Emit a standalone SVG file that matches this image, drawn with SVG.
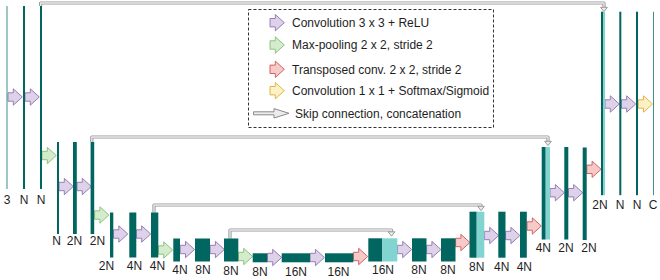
<svg xmlns="http://www.w3.org/2000/svg" xmlns:xlink="http://www.w3.org/1999/xlink" width="660" height="280" viewBox="0 0 660 280">
<style>
text{font-family:"Liberation Sans",Arial,sans-serif;font-size:12px;fill:#1e1e1e}
.lab{text-anchor:middle}
.bar{fill:#00665f}
.thin{fill:#3f8f8a}
.cat{fill:#82d4d0}
.conv{fill:#ddd2e8;stroke:#9a7cb8;stroke-width:1}
.pool{fill:#d4ebcd;stroke:#8cc47c;stroke-width:1}
.up{fill:#f7c9c9;stroke:#d26464;stroke-width:1}
.out{fill:#fdf0c4;stroke:#e2b64a;stroke-width:1}
.skipo{fill:none;stroke:#9a9a9a;stroke-width:3.2;stroke-linejoin:round}
.skipi{fill:none;stroke:#ececec;stroke-width:1.3;stroke-linejoin:round}
.skiph{fill:#ececec;stroke:#9a9a9a;stroke-width:1}
</style>
<defs>
<path id="ar" d="M0,-4.2 H5.3 V-8.2 L14.3,0 L5.3,8.2 V4.2 H0 Z"/>
</defs>
<rect width="660" height="280" fill="#ffffff"/>

<g id="connectors">
  <g id="skips">
    <path class="skipo" d="M40.6,6 V3 H604 V7.5"/>
    <path class="skipi" d="M40.6,6 V3 H604 V7.5"/>
    <path class="skiph" d="M600.6,7.3 H607.4 L604,11.6 Z"/>
    <path class="skipo" d="M91.8,142 V137 H548 V141.5"/>
    <path class="skipi" d="M91.8,142 V137 H548 V141.5"/>
    <path class="skiph" d="M544.6,141.3 H551.4 L548,145.6 Z"/>
    <path class="skipo" d="M154,212.5 V205 H481 V206.5"/>
    <path class="skipi" d="M154,212.5 V205 H481 V206.5"/>
    <path class="skiph" d="M477.6,206.3 H484.4 L481,210.6 Z"/>
    <path class="skipo" d="M230,238.5 V230 H391.5 V232"/>
    <path class="skipi" d="M230,238.5 V230 H391.5 V232"/>
    <path class="skiph" d="M388.1,231.8 H394.9 L391.5,236.1 Z"/>
  </g>
  <g id="ops">
    <use href="#ar" class="conv" transform="translate(8,97)"/>
    <use href="#ar" class="conv" transform="translate(25,97)"/>
    <use href="#ar" class="pool" transform="translate(42,155.5)"/>
    <use href="#ar" class="conv" transform="translate(59,186.5)"/>
    <use href="#ar" class="conv" transform="translate(77,186.5)"/>
    <use href="#ar" class="pool" transform="translate(94.6,215)"/>
    <use href="#ar" class="conv" transform="translate(113.5,234)"/>
    <use href="#ar" class="conv" transform="translate(136.4,234)"/>
    <use href="#ar" class="pool" transform="translate(158.4,250)"/>
    <use href="#ar" class="conv" transform="translate(180.2,249.5)"/>
    <use href="#ar" class="conv" transform="translate(210.1,249.5)"/>
    <use href="#ar" class="pool" transform="translate(238.4,256.5)"/>
    <use href="#ar" class="conv" transform="translate(267.4,257.5)"/>
    <use href="#ar" class="conv" transform="translate(310.1,257.5)"/>
    <use href="#ar" class="up" transform="translate(353.4,256.5)"/>
    <use href="#ar" class="conv" transform="translate(397.4,249.5)"/>
    <use href="#ar" class="conv" transform="translate(426.6,249.5)"/>
    <use href="#ar" class="up" transform="translate(455.6,242.5)"/>
    <use href="#ar" class="conv" transform="translate(484.4,235.5)"/>
    <use href="#ar" class="conv" transform="translate(505.6,235.5)"/>
    <use href="#ar" class="up" transform="translate(527,226)"/>
    <use href="#ar" class="conv" transform="translate(550,192.7)"/>
    <use href="#ar" class="conv" transform="translate(568.4,192.7)"/>
    <use href="#ar" class="up" transform="translate(586.8,169.3)"/>
    <use href="#ar" class="conv" transform="translate(605,104)"/>
    <use href="#ar" class="conv" transform="translate(621.4,104)"/>
    <use href="#ar" class="out" transform="translate(638.2,104)"/>
  </g>
</g>

<g id="e1a"><rect class="thin" x="6.5" y="6" width="1" height="183"/><text class="lab" x="7" y="203.5">3</text></g>
<g id="e1b"><rect class="bar" x="23" y="6" width="2" height="183"/><text class="lab" x="24" y="203.5">N</text></g>
<g id="e1c"><rect class="bar" x="40" y="6" width="2" height="183"/><text class="lab" x="41" y="203.5">N</text></g>

<g id="e2a"><rect class="bar" x="57" y="142" width="2" height="92"/><text class="lab" x="56.5" y="244.5">N</text></g>
<g id="e2b"><rect class="bar" x="73" y="142" width="3.8" height="92"/><text class="lab" x="74.5" y="244.5">2N</text></g>
<g id="e2c"><rect class="bar" x="90.6" y="142" width="3.6" height="92"/><text class="lab" x="97.5" y="244.5">2N</text></g>

<g id="e3a"><rect class="bar" x="110" y="212.5" width="3.3" height="45"/><text class="lab" x="106.5" y="270">2N</text></g>
<g id="e3b"><rect class="bar" x="129.3" y="212.5" width="7" height="45"/><text class="lab" x="134.5" y="270">4N</text></g>
<g id="e3c"><rect class="bar" x="151" y="212.5" width="7.3" height="45"/><text class="lab" x="157.5" y="270">4N</text></g>

<g id="e4a"><rect class="bar" x="173.3" y="238.5" width="6.7" height="23"/><text class="lab" x="180" y="274">4N</text></g>
<g id="e4b"><rect class="bar" x="195" y="238.5" width="15" height="23"/><text class="lab" x="203" y="274">8N</text></g>
<g id="e4c"><rect class="bar" x="224" y="238.5" width="14.3" height="23"/><text class="lab" x="231" y="274.5">8N</text></g>

<g id="b1"><rect class="bar" x="252.7" y="253.3" width="14.6" height="9"/><text class="lab" x="260" y="276">8N</text></g>
<g id="b2"><rect class="bar" x="281.7" y="253.3" width="28.3" height="9"/><text class="lab" x="296" y="276">16N</text></g>
<g id="b3"><rect class="bar" x="325" y="253.3" width="28.3" height="9"/><text class="lab" x="338.5" y="276">16N</text></g>

<g id="d4a"><rect class="bar" x="368.3" y="238.3" width="14" height="23.2"/><rect class="cat" x="382.3" y="238.3" width="15" height="23.2"/><text class="lab" x="383" y="273.8">16N</text></g>
<g id="d4b"><rect class="bar" x="412" y="238.3" width="14.5" height="23.2"/><text class="lab" x="419" y="273.8">8N</text></g>
<g id="d4c"><rect class="bar" x="441" y="238.3" width="14.5" height="23.2"/><text class="lab" x="448" y="273.8">8N</text></g>

<g id="d3a"><rect class="bar" x="469.5" y="211.7" width="7.2" height="46"/><rect class="cat" x="476.7" y="211.7" width="7.6" height="46"/><text class="lab" x="476.7" y="270.5">8N</text></g>
<g id="d3b"><rect class="bar" x="498.3" y="211.7" width="7.2" height="46"/><text class="lab" x="501.7" y="270.5">4N</text></g>
<g id="d3c"><rect class="bar" x="520" y="211.7" width="6.8" height="46"/><text class="lab" x="524.3" y="270.5">4N</text></g>

<g id="d2a"><rect class="bar" x="541.7" y="147" width="4" height="92.5"/><rect class="cat" x="545.7" y="147" width="4.3" height="92.5"/><text class="lab" x="543.3" y="251.5">4N</text></g>
<g id="d2b"><rect class="bar" x="564.3" y="147" width="4" height="92.5"/><text class="lab" x="566" y="251.5">2N</text></g>
<g id="d2c"><rect class="bar" x="582.7" y="147.5" width="4" height="92.5"/><text class="lab" x="589" y="252">2N</text></g>

<g id="d1a"><rect class="bar" x="601" y="11.7" width="2" height="183.5"/><rect class="cat" x="603" y="11.7" width="2" height="183.5"/><text class="lab" x="600" y="208.5">2N</text></g>
<g id="d1b"><rect class="bar" x="619.3" y="11.7" width="2" height="183.5"/><text class="lab" x="620" y="208.5">N</text></g>
<g id="d1c"><rect class="bar" x="636" y="11.7" width="2" height="183.5"/><text class="lab" x="637" y="208.5">N</text></g>
<g id="d1d"><rect class="thin" x="653" y="11.7" width="1" height="183.5"/><text class="lab" x="653" y="208.5">C</text></g>

<g id="legend">
  <rect x="248.5" y="9.5" width="245" height="118" fill="#ffffff" stroke="#333" stroke-width="1" stroke-dasharray="3,2"/>
  <use href="#ar" class="conv" transform="translate(270,22.7)"/>
  <text x="292" y="27">Convolution 3 x 3 + ReLU</text>
  <use href="#ar" class="pool" transform="translate(270,45)"/>
  <text x="292" y="49.3">Max-pooling 2 x 2, stride 2</text>
  <use href="#ar" class="up" transform="translate(270,69.3)"/>
  <text x="292" y="73.6">Transposed conv. 2 x 2, stride 2</text>
  <use href="#ar" class="out" transform="translate(270,90.7)"/>
  <text x="292" y="95">Convolution 1 x 1 + Softmax/Sigmoid</text>
  <path d="M253.5,111.8 H274 V108.6 L289,113.3 L274,118 V114.8 H253.5 Z" fill="#ececec" stroke="#8a8a8a" stroke-width="1"/>
  <text x="295" y="117.6">Skip connection, concatenation</text>
</g>
</svg>
